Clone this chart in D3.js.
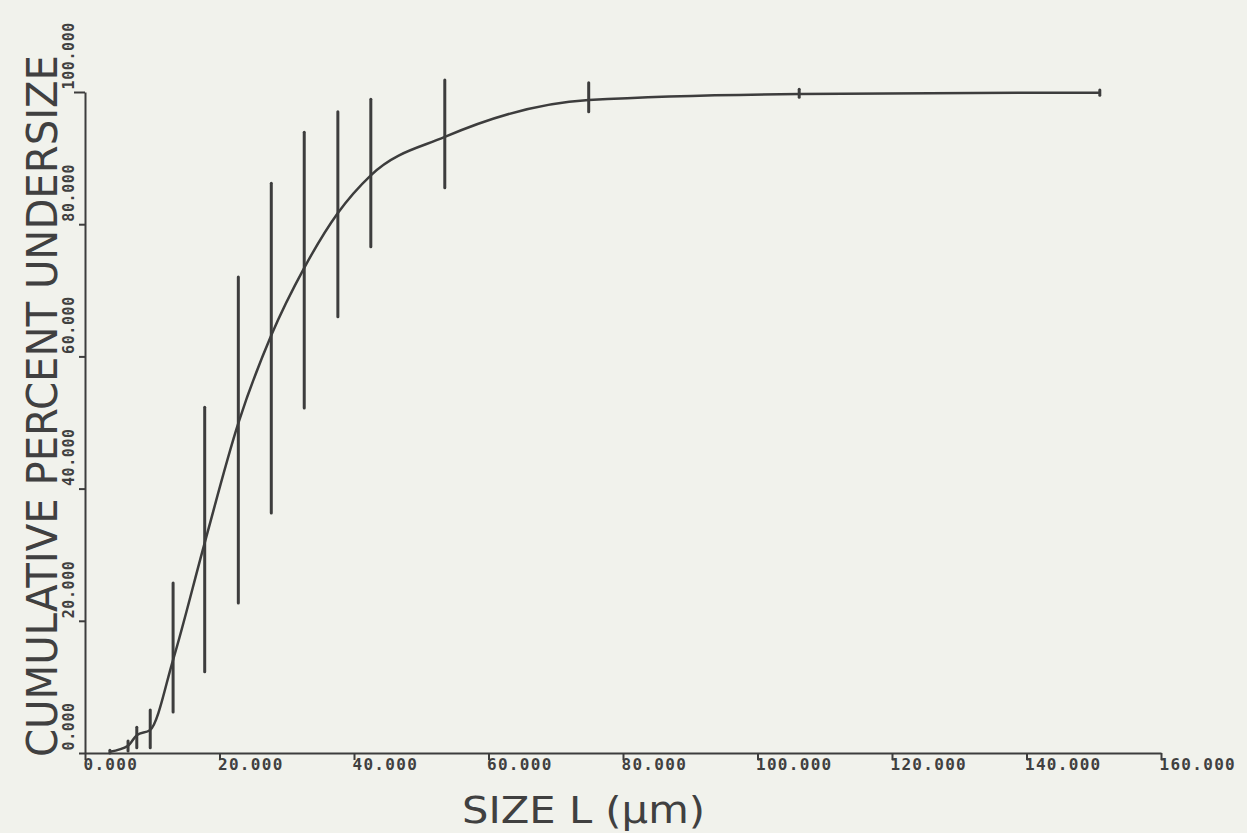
<!DOCTYPE html>
<html lang="en">
	<head>
		<meta charset="utf-8">
		<title>Cumulative percent undersize</title>
		<script type="text/javascript" src="https://cdn.jsdelivr.net/npm/d3@7"></script>
		<style type="text/css">
			body { margin: 0; background: #f1f2ec; }
			svg { display: block; }
		</style>
	</head>
	<body>
		<script type="text/javascript">

			//Size and plot box
			var w = 1247;
			var h = 833;
			var padLeft = 85, padRight = 1161, padTop = 92, padBottom = 753;

			//Data
			var sizes   = [3.7, 6.4, 7.7, 9.7, 13.1, 17.8, 22.8, 27.7, 32.6, 37.6, 42.5, 53.5, 74.9, 106.2, 150.9];
			var percent = [0.2, 1.1, 2.7, 3.5, 14.1, 31.8, 49.9, 63.2, 73.4, 81.7, 87.4, 93.2, 98.8, 99.7, 99.9];
			var lowBar  = [0.0, 0.3, 0.8, 0.8, 6.2, 12.3, 22.7, 36.3, 52.2, 66.0, 76.6, 85.5, 97.0, 99.2, 99.5];
			var highBar = [0.4, 1.8, 3.9, 6.5, 25.7, 52.3, 72.0, 86.2, 93.9, 97.0, 98.9, 101.8, 101.4, 100.4, 100.3];

			var xTicks = [0, 20, 40, 60, 80, 100, 120, 140, 160];
			var yTicks = [0, 20, 40, 60, 80, 100];

			var dataset = sizes.map(function(d, i) {
				return { x: d, y: percent[i], lo: lowBar[i], hi: highBar[i] };
			});

			var xScale = d3.scaleLinear().domain([0, 160]).range([padLeft, padRight]);
			var yScale = d3.scaleLinear().domain([0, 100]).range([padBottom, padTop]);

			var ink = "#3d3d3d";

			var svg = d3.select("body")
						.append("svg")
						.attr("width", w)
						.attr("height", h);

			svg.append("rect").attr("width", w).attr("height", h).attr("fill", "#f1f2ec");

			//X axis
			var xAxis = svg.append("g")
				.attr("transform", "translate(0," + padBottom + ")")
				.call(d3.axisBottom(xScale).tickValues(xTicks).tickSize(7).tickSizeOuter(0)
					.tickFormat(function(d) { return d3.format(".3f")(d); }));
			xAxis.select(".domain").attr("stroke", ink).attr("stroke-width", 2);
			xAxis.selectAll(".tick line").attr("stroke", ink).attr("stroke-width", 2);
			xAxis.selectAll(".tick text")
				.attr("fill", "#404040")
				.attr("font-family", "DejaVu Sans Mono")
				.attr("font-weight", "bold")
				.attr("font-size", "16px")
				.attr("letter-spacing", "1.3px")
				.attr("text-anchor", "start")
				.attr("dx", "-2")
				.attr("y", 17)
				.attr("dy", "0");

			//Y axis
			var yAxis = svg.append("g")
				.attr("transform", "translate(" + padLeft + ",0)")
				.call(d3.axisLeft(yScale).tickValues(yTicks).tickSize(6).tickSizeOuter(0)
					.tickFormat(function(d) { return d3.format(".3f")(d); }));
			yAxis.select(".domain").attr("stroke", ink).attr("stroke-width", 2);
			yAxis.selectAll(".tick line").attr("stroke", ink).attr("stroke-width", 2)
				.attr("x2", function(d) { return d === 100 ? -11 : -6; });
			yAxis.selectAll(".tick text")
				.attr("fill", "#404040")
				.attr("font-family", "DejaVu Sans Mono")
				.attr("font-weight", "bold")
				.attr("font-size", "15px")
				.attr("letter-spacing", "0.6px")
				.attr("text-anchor", "start")
				.attr("x", 0)
				.attr("dy", "0")
				.attr("transform", "translate(-11,-3) rotate(-90)");

			//Error bars
			svg.selectAll("line.err")
			   .data(dataset)
			   .enter()
			   .append("line")
			   .attr("class", "err")
			   .attr("x1", function(d) { return xScale(d.x); })
			   .attr("x2", function(d) { return xScale(d.x); })
			   .attr("y1", function(d) { return yScale(d.lo); })
			   .attr("y2", function(d) { return yScale(d.hi); })
			   .attr("stroke", ink)
			   .attr("stroke-width", 3)
			   .attr("stroke-linecap", "round");

			//Curve
			var line = d3.line()
				.x(function(d) { return xScale(d.x); })
				.y(function(d) { return yScale(d.y); })
				.curve(d3.curveMonotoneX);

			svg.append("path")
			   .datum(dataset)
			   .attr("d", line)
			   .attr("fill", "none")
			   .attr("stroke", ink)
			   .attr("stroke-width", 2.5);

			//Axis titles
			svg.append("text")
			   .text("SIZE L (\u00b5m)")
			   .attr("x", 462)
			   .attr("y", 823)
			   .attr("textLength", 243)
			   .attr("lengthAdjust", "spacingAndGlyphs")
			   .attr("font-family", "DejaVu Sans")
			   .attr("font-size", "38px")
			   .attr("fill", "#404040");

			svg.append("text")
			   .text("CUMULATIVE PERCENT UNDERSIZE")
			   .attr("transform", "translate(57,757) rotate(-90)")
			   .attr("textLength", 702)
			   .attr("lengthAdjust", "spacingAndGlyphs")
			   .attr("font-family", "DejaVu Sans")
			   .attr("font-size", "43px")
			   .attr("fill", "#404040");

		</script>
	</body>
</html>
